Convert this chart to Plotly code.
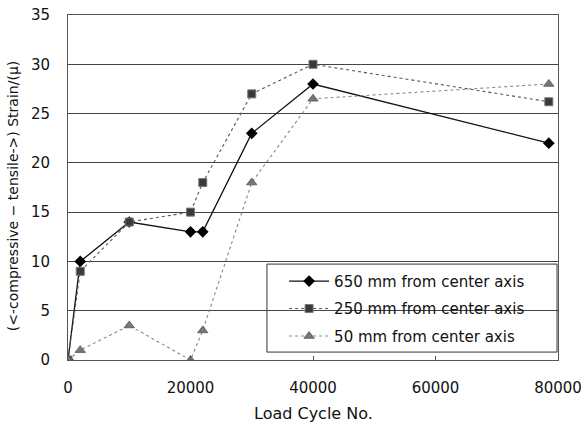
import plotly.graph_objects as go

cycles = [0, 2000, 10000, 20000, 22000, 30000, 40000, 78500]
s650 = [0, 10, 14, 13, 13, 23, 28, 22]
s250 = [0, 9, 14, 15, 18, 27, 30, 26.2]
s50 = [0, 1, 3.5, 0, 3, 18, 26.5, 28]
names = ["650 mm from center axis", "250 mm from center axis", "50 mm from center axis"]
x_ticks = [0, 20000, 40000, 60000, 80000]
y_ticks = [0, 5, 10, 15, 20, 25, 30, 35]
x_title = "Load Cycle No."
y_title = "(<-compressive − tensile->) Strain/(μ)"

FONT = "DejaVu Sans, sans-serif"

fig = go.Figure()
fig.add_trace(go.Scatter(x=cycles, y=s650, name=names[0], mode="lines+markers",
                         legendgroup="a",
                         line=dict(color="#111111", width=1.3),
                         marker=dict(symbol="diamond", size=9, color="#000000")))
fig.add_trace(go.Scatter(x=cycles, y=s250, name=names[1], mode="lines+markers",
                         legendgroup="b",
                         line=dict(color="#555555", width=1.1, dash="dot"),
                         marker=dict(symbol="square", size=8, color="#3a3a3a",
                                     line=dict(color="#777777", width=1))))
fig.add_trace(go.Scatter(x=cycles, y=s50, name=names[2], mode="lines+markers",
                         legendgroup="c",
                         line=dict(color="#888888", width=1.1, dash="dot"),
                         marker=dict(symbol="triangle-up", size=9, color="#777777",
                                     line=dict(color="#555555", width=0.8))))

# legend frame
fig.add_shape(type="rect", xref="paper", yref="paper",
              x0=0.406, x1=0.998, y0=0.023, y1=0.278,
              line=dict(color="#333333", width=1), fillcolor="white", layer="below")

# axis titles as annotations for precise placement
fig.add_annotation(text=y_title, textangle=-90, xref="paper", yref="paper",
                   x=-0.112, y=0.475, xanchor="center", yanchor="middle",
                   showarrow=False, font=dict(size=14, family=FONT, color="#111111"))
fig.add_annotation(text=x_title, xref="paper", yref="paper",
                   x=0.5, y=-0.154, xanchor="center", yanchor="middle",
                   showarrow=False, font=dict(size=16, family=FONT, color="#111111"))

fig.update_layout(
    width=581, height=422,
    margin=dict(l=68, r=23, t=15, b=62, autoexpand=False),
    paper_bgcolor="white", plot_bgcolor="white",
    font=dict(family=FONT, size=14, color="#111111"),
    showlegend=True,
    legend=dict(x=0.441, y=0.276, xanchor="left", yanchor="top",
                bgcolor="rgba(0,0,0,0)", borderwidth=0,
                font=dict(size=15, family=FONT), itemwidth=40,
                tracegroupgap=5),
)
fig.update_xaxes(range=[0, 80000], tickvals=x_ticks, ticktext=[str(v) for v in x_ticks],
                 showgrid=False, zeroline=False, showline=True, linecolor="#555555",
                 linewidth=1, mirror=True, ticks="inside", ticklen=4, tickcolor="#555555",
                 tickfont=dict(size=15), ticklabelstandoff=14, ticklabeloverflow="allow",
                 automargin=False)
fig.update_yaxes(range=[0, 35], tickvals=y_ticks, showgrid=True, gridcolor="#444444",
                 gridwidth=1, zeroline=False, showline=True, linecolor="#555555",
                 linewidth=1, mirror=True, ticks="", tickfont=dict(size=15),
                 ticklabelstandoff=14, automargin=False)

fig.write_html("out.html")
